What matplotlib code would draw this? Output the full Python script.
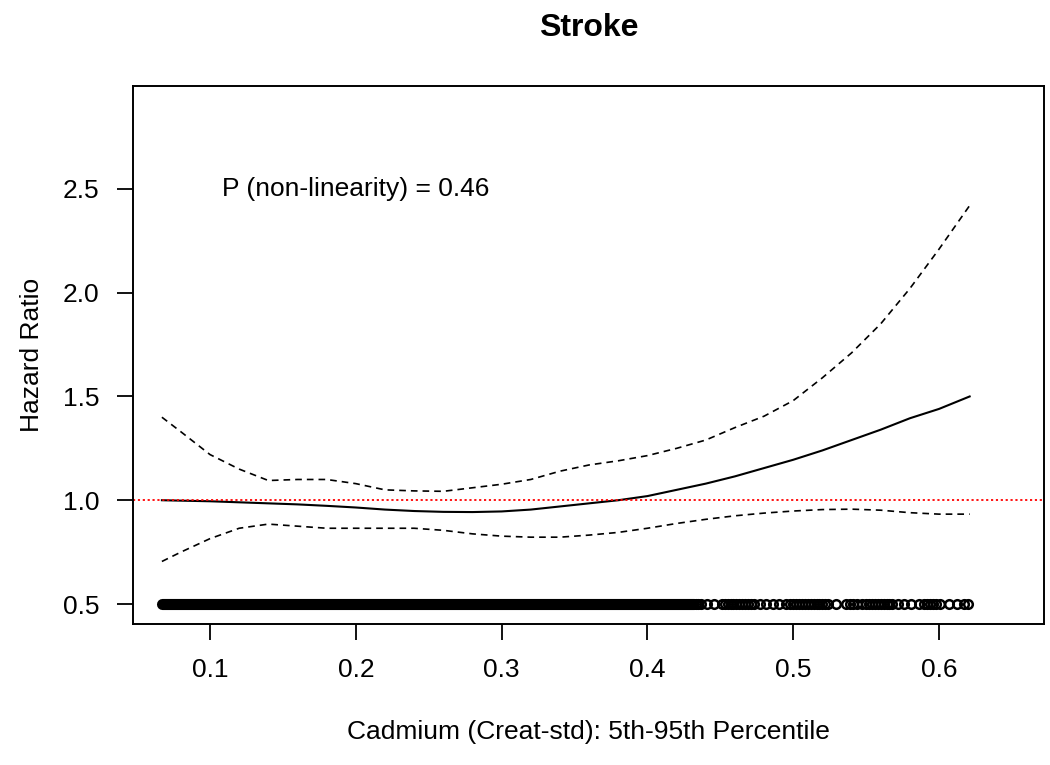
import matplotlib
matplotlib.use('Agg')
import matplotlib.pyplot as plt

plt.rcParams['font.family'] = ['Liberation Sans', 'DejaVu Sans']

# spline fit
cadmium = [0.067, 0.08, 0.10, 0.12, 0.14, 0.16, 0.18, 0.20, 0.22, 0.24, 0.26,
           0.28, 0.30, 0.32, 0.34, 0.36, 0.38, 0.40, 0.42, 0.44, 0.46, 0.48,
           0.50, 0.52, 0.54, 0.56, 0.58, 0.60, 0.621]
hr = [1.0, 0.998, 0.995, 0.99, 0.985, 0.98, 0.973, 0.965, 0.955, 0.948, 0.944,
      0.943, 0.946, 0.955, 0.97, 0.985, 1.0, 1.02, 1.05, 1.08, 1.115, 1.155,
      1.195, 1.24, 1.29, 1.34, 1.395, 1.44, 1.50]
hr_upper = [1.40, 1.33, 1.22, 1.15, 1.095, 1.10, 1.10, 1.08, 1.05, 1.045, 1.043,
            1.06, 1.077, 1.10, 1.14, 1.17, 1.19, 1.215, 1.25, 1.29, 1.35, 1.405,
            1.48, 1.59, 1.71, 1.85, 2.02, 2.21, 2.42]
hr_lower = [0.705, 0.75, 0.815, 0.865, 0.885, 0.875, 0.865, 0.865, 0.865, 0.865,
            0.855, 0.838, 0.827, 0.822, 0.822, 0.832, 0.845, 0.865, 0.888, 0.908,
            0.925, 0.938, 0.948, 0.955, 0.957, 0.952, 0.94, 0.933, 0.933]

# rug of observations: a solid run of points, then the sparser upper tail
rug_dense = [0.067, 0.432]
rug_tail = [0.433, 0.435, 0.437, 0.441, 0.446, 0.451, 0.453, 0.455, 0.457, 0.459,
            0.461, 0.463, 0.465, 0.467, 0.469, 0.471, 0.473, 0.477, 0.481, 0.486,
            0.490, 0.495, 0.498, 0.500, 0.502, 0.504, 0.506, 0.508, 0.510, 0.512,
            0.514, 0.516, 0.518, 0.520, 0.522, 0.524, 0.529, 0.536, 0.539, 0.541,
            0.544, 0.547, 0.550, 0.552, 0.554, 0.556, 0.558, 0.560, 0.562, 0.564,
            0.566, 0.568, 0.572, 0.576, 0.581, 0.586, 0.590, 0.592, 0.594, 0.596,
            0.598, 0.601, 0.607, 0.612, 0.617, 0.620]
rug_y = 0.5

x_ticks = [0.1, 0.2, 0.3, 0.4, 0.5, 0.6]
y_ticks = [0.5, 1.0, 1.5, 2.0, 2.5]

fig = plt.figure(figsize=(10.5, 7.65), dpi=100)
ax = fig.add_axes([0.1267, 0.1843, 0.8676, 0.7033])

ax.plot(cadmium, hr, color='black', lw=1.5)
ax.plot(cadmium, hr_upper, color='black', lw=1.2, ls=(0, (4, 3)))
ax.plot(cadmium, hr_lower, color='black', lw=1.2, ls=(0, (4, 3)))
ax.axhline(1.0, color='red', lw=1.3, ls=(0, (1.2, 1.5)))

ax.plot(rug_dense, [rug_y] * 2, color='black', lw=8, solid_capstyle='round')
ax.plot(rug_tail, [rug_y] * len(rug_tail), ls='none', marker='o', ms=6.2,
        mfc='none', mec='black', mew=1.8)

ax.text(0.2, 2.5, 'P (non-linearity) = 0.46', ha='center', va='center', fontsize=19)

ax.set_xlim(0.0472, 0.672)
ax.set_ylim(0.4036, 2.996)
ax.set_xticks(x_ticks)
ax.set_yticks(y_ticks)
ax.set_xticklabels([f'{v:.1f}' for v in x_ticks])
ax.set_yticklabels([f'{v:.1f}' for v in y_ticks])
ax.tick_params(labelsize=19, length=11.5, width=1.3, pad=13, direction='out')
for s in ax.spines.values():
    s.set_linewidth(1.4)

ax.set_xlabel('Cadmium (Creat-std): 5th-95th Percentile', fontsize=19, labelpad=27)
ax.set_ylabel('Hazard Ratio', fontsize=19, labelpad=13)
ax.set_title('Stroke', fontsize=23, fontweight='bold', pad=36)

fig.savefig('out.png', dpi=100)
